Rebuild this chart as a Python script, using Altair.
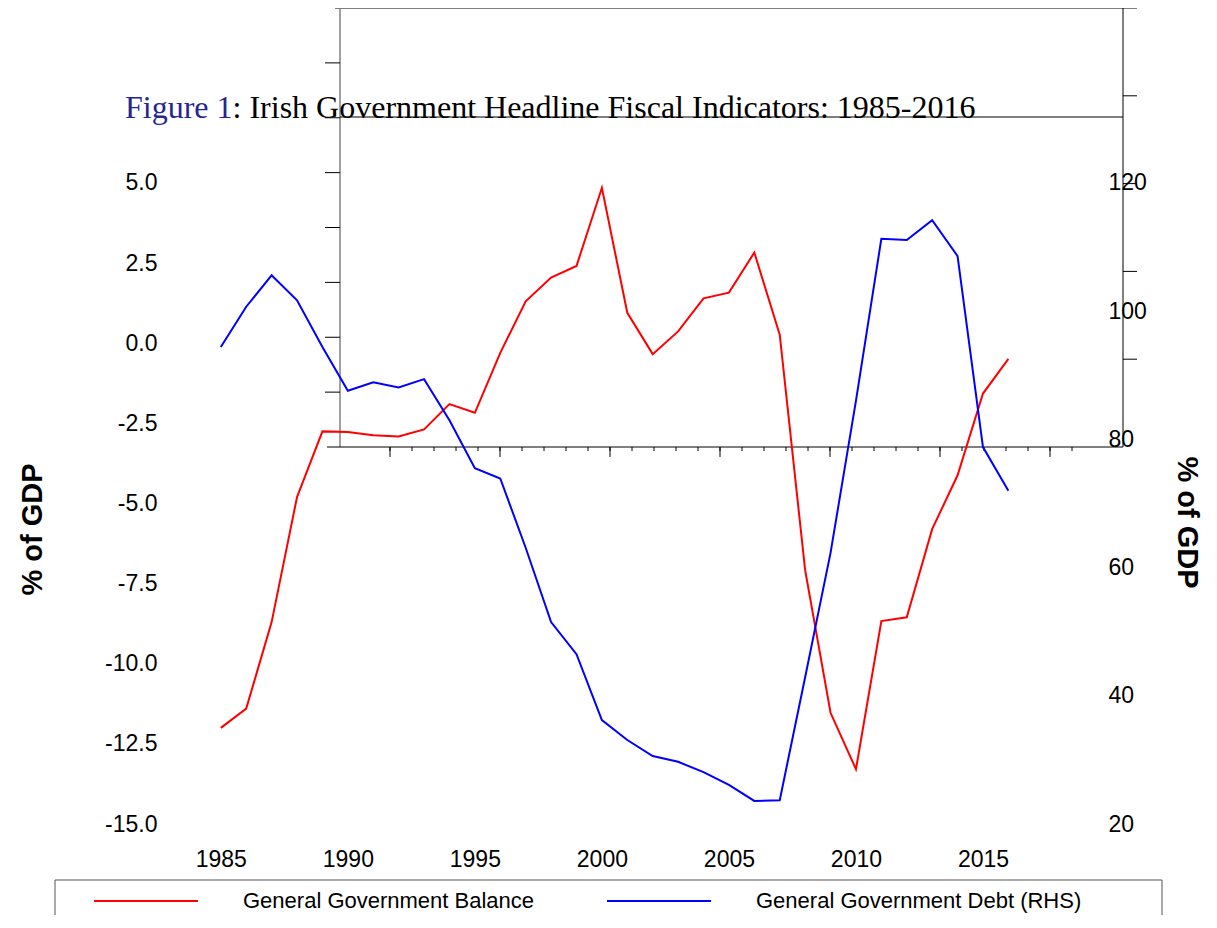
import altair as alt
import pandas as pd

# ---------------- data ----------------
years = list(range(1985, 2017))
balance = [-12.0, -11.4, -8.7, -4.8, -2.75, -2.77, -2.87, -2.91, -2.69, -1.90,
           -2.17, -0.30, 1.31, 2.05, 2.41, 4.85, 0.95, -0.34, 0.37, 1.40,
           1.58, 2.83, 0.27, -7.08, -11.53, -13.29, -8.67, -8.55, -5.80, -4.12,
           -1.57, -0.49]
debt = [94.4, 100.7, 105.6, 101.7, 94.4, 87.6, 88.9, 88.1, 89.4, 83.0,
        75.5, 73.9, 63.1, 51.5, 46.5, 36.2, 33.1, 30.6, 29.7, 28.1,
        26.1, 23.6, 23.7, 42.9, 62.3, 86.0, 111.3, 111.1, 114.2, 108.6,
        78.8, 72.0]
series_names = ["General Government Balance", "General Government Debt (RHS)"]
series_colors = ["#ff0000", "#0000ff"]
x_tick_values = [1985, 1990, 1995, 2000, 2005, 2010, 2015]
left_tick_values = [-15.0, -12.5, -10.0, -7.5, -5.0, -2.5, 0.0, 2.5, 5.0]
right_tick_values = [20, 40, 60, 80, 100, 120]
title_figure = ["Figure 1"]
title_rest = [": Irish Government Headline Fiscal Indicators: 1985-2016"]
axis_title = "% of GDP"

bal_df = pd.DataFrame({"year": years, "value": balance, "series": series_names[0]})
debt_df = pd.DataFrame({"year": years, "value": debt, "series": series_names[1]})

SANS = "Liberation Sans"
SERIF = "Liberation Serif"

color = alt.Color(
    "series:N",
    scale=alt.Scale(domain=series_names, range=series_colors),
    legend=alt.Legend(
        orient="none", legendX=-77, legendY=840, direction="horizontal",
        title=None, symbolType="stroke", symbolSize=10816, symbolStrokeWidth=2,
        labelFontSize=22, labelFont=SANS, labelColor="black", labelOffset=44,
        columnPadding=68, padding=0, labelLimit=600,
    ),
)

x_main = alt.X(
    "year:Q",
    scale=alt.Scale(domain=[1983, 2020], nice=False, zero=False),
    axis=alt.Axis(values=x_tick_values, format="d", ticks=False, tickSize=0,
                  domain=False, grid=False, labelFontSize=23, labelFont=SANS,
                  labelColor="black", labelPadding=24, labelOverlap=False,
                  labelFlush=False, title=None),
)
x_hidden = alt.X("year:Q", scale=alt.Scale(domain=[1983, 2020], nice=False, zero=False), axis=None)

red = alt.Chart(bal_df).mark_line(strokeWidth=2).encode(
    x=x_main,
    y=alt.Y("value:Q",
            scale=alt.Scale(domain=[-15, 10.46], nice=False, zero=False),
            axis=alt.Axis(orient="left", values=left_tick_values, format=".1f",
                          labelExpr="replace(datum.label, '\u2212', '-')",
                          ticks=False, tickSize=0, domain=False, grid=False,
                          labelFontSize=23, labelFont=SANS, labelColor="black",
                          labelPadding=13, labelOverlap=False,
                          title=axis_title, titleFont=SANS, titleFontSize=29,
                          titleFontWeight="bold", titleColor="black",
                          titleX=-138, titleY=521, titleBaseline="middle")),
    color=color,
)

blue = alt.Chart(debt_df).mark_line(strokeWidth=2).encode(
    x=x_hidden,
    y=alt.Y("value:Q",
            scale=alt.Scale(domain=[20, 147.3], nice=False, zero=False),
            axis=alt.Axis(orient="right", values=right_tick_values, format="d",
                          ticks=False, tickSize=0, domain=False, grid=False,
                          labelFontSize=23, labelFont=SANS, labelColor="black",
                          labelPadding=-2, labelOverlap=False,
                          title=axis_title, titleFont=SANS, titleFontSize=29,
                          titleFontWeight="bold", titleColor="black",
                          titleX=76, titleY=514, titleBaseline="middle")),
    color=color,
)

one = alt.Data(values=[{"a": 1}])

def hline(x1, x2, y, col="black", w=1):
    return alt.Chart(one).mark_rule(color=col, strokeWidth=w).encode(
        x=alt.value(x1), x2=alt.value(x2), y=alt.value(y))

def vline(x, y1, y2, col="black", w=1):
    return alt.Chart(one).mark_rule(color=col, strokeWidth=w).encode(
        x=alt.value(x), y=alt.value(y1), y2=alt.value(y2))

# inner (ghost) frame seen in the picture
frame = [
    hline(165, 967, 0),
    vline(170, 0, 439, col="#808080", w=1.5),
    vline(953, 0, 439),
    hline(157, 953, 439),
    hline(170, 953, 109),
]

left_ticks = alt.Chart(alt.sequence(1, 8, as_="k")).mark_rule(color="black").encode(
    y=alt.Y("k:Q", scale=alt.Scale(domain=[0, 8], range=[439, 0], nice=False, zero=False), axis=None),
    x=alt.value(155), x2=alt.value(170))
right_ticks = alt.Chart(alt.sequence(1, 5, as_="k")).mark_rule(color="black").encode(
    y=alt.Y("k:Q", scale=alt.Scale(domain=[0, 5], range=[439, 0], nice=False, zero=False), axis=None),
    x=alt.value(953), x2=alt.value(967))
bottom_minor = alt.Chart(alt.sequence(0, 32, as_="k")).mark_rule(color="black").encode(
    x=alt.X("k:Q", scale=alt.Scale(domain=[0, 31], range=[220, 902], nice=False, zero=False), axis=None),
    y=alt.value(439), y2=alt.value(443))
bottom_major = alt.Chart(alt.sequence(0, 32, as_="k")).transform_filter(
    "datum.k % 5 == 0").mark_rule(color="black").encode(
    x=alt.X("k:Q", scale=alt.Scale(domain=[0, 31], range=[220, 902], nice=False, zero=False), axis=None),
    y=alt.value(439), y2=alt.value(449))

# title in two colours
t1 = alt.Chart(pd.DataFrame({"t": title_figure})).mark_text(
    font=SERIF, fontSize=32, color="#262690", align="left", baseline="alphabetic").encode(
    text="t:N", x=alt.value(-45), y=alt.value(110))
t2 = alt.Chart(pd.DataFrame({"t": title_rest})).mark_text(
    font=SERIF, fontSize=32, color="black", align="left", baseline="alphabetic").encode(
    text="t:N", x=alt.value(62.55), y=alt.value(110))

# legend box (top, left and right edges)
box = [
    hline(-115, 992, 872, col="#555555"),
    vline(-115, 872, 907, col="#555555"),
    vline(992, 872, 907, col="#555555"),
]

chart = alt.layer(
    *frame, left_ticks, right_ticks, bottom_minor, bottom_major,
    red, blue, t1, t2, *box
).resolve_scale(
    x="independent", y="independent"
).properties(
    width=940, height=816,
    autosize=alt.AutoSizeParams(type="none"),
    padding={"left": 162, "top": 0, "right": 95, "bottom": 91},
).configure_view(stroke="transparent")

chart.save("out.html", embed_options={"renderer": "svg", "actions": False})
